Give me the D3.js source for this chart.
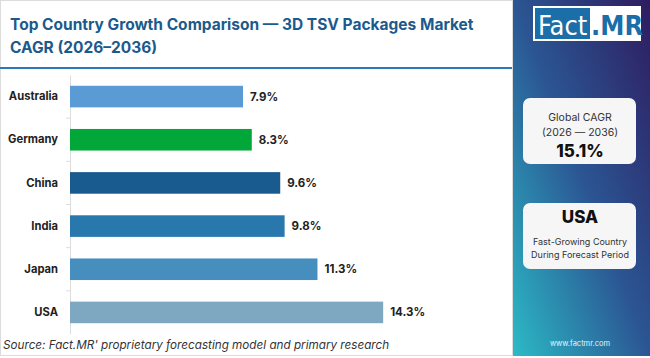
<!DOCTYPE html>
<html><head><meta charset="utf-8">
<script src="https://cdn.jsdelivr.net/npm/d3@7"></script>
<style>
html,body{margin:0;padding:0;background:#fff;}
svg{display:block;font-family:"Inter","Open Sans",sans-serif;}
</style></head>
<body>
<script>
const countries = ["Australia","Germany","China","India","Japan","USA"];
const cagr = [7.9, 8.3, 9.6, 9.8, 11.3, 14.3];
const barColors = ["#5b9bd5","#02a73a","#1a5b8f","#2878ad","#468ebe","#7ea8c2"];
const titleLines = ["Top Country Growth Comparison — 3D TSV Packages Market","CAGR (2026–2036)"];
const globalCagr = "15.1%";
const topCountry = "USA";

const W = 650, H = 358;
const svg = d3.select("body").append("svg").attr("width", W).attr("height", H);

// main panel
svg.append("rect").attr("x",0.5).attr("y",0.5).attr("width",512).attr("height",355)
  .attr("fill","#fff").attr("stroke","#dcdcdc");

// title
const title = svg.append("text").attr("x",10).attr("fill","#1b5a8c")
  .attr("font-weight",700).attr("font-size",15.5);
titleLines.forEach((t,i)=>{
  title.append("tspan").attr("x",10).attr("y",30+i*23).text(t);
});
svg.append("line").attr("x1",0).attr("x2",512).attr("y1",68).attr("y2",68)
  .attr("stroke","#2a7ab5").attr("stroke-width",2);

// scales
const y = d3.scaleBand().domain(countries).range([75,334]).paddingInner(0.5).paddingOuter(0.25);
const x = d3.scaleLinear().domain([0,16]).range([70,420.4]);

// axis
const yAxis = d3.axisLeft(y).tickSize(0).tickPadding(12);
const ag = svg.append("g").attr("transform","translate(70,0)").call(yAxis);
ag.select(".domain").attr("stroke","#dddddd");
ag.selectAll("text").attr("font-size",11.2).attr("font-weight",700).attr("fill","#222")
  .attr("font-family","Inter, sans-serif");
// boundary ticks
const bounds = countries.slice(1).map(c => y(c) - y.step()*y.paddingInner()/2);
svg.append("g").selectAll("line").data(bounds).join("line")
  .attr("x1",66).attr("x2",70).attr("y1",d=>d).attr("y2",d=>d).attr("stroke","#dddddd");

// bars
const data = countries.map((c,i)=>({c, v:cagr[i], col:barColors[i]}));
svg.append("g").selectAll("rect").data(data).join("rect")
  .attr("x",x(0)).attr("y",d=>y(d.c)).attr("width",d=>x(d.v)-x(0))
  .attr("height",y.bandwidth()).attr("fill",d=>d.col);
svg.append("g").selectAll("text").data(data).join("text")
  .attr("x",d=>x(d.v)+7).attr("y",d=>y(d.c)+y.bandwidth()/2).attr("dy","0.35em")
  .attr("font-size",11.5).attr("font-weight",700).attr("fill","#222")
  .text(d=>d.v.toFixed(1)+"%");

// source
svg.append("text").attr("x",3).attr("y",349).attr("font-size",11.7).attr("font-style","italic")
  .attr("fill","#333").text("Source: Fact.MR' proprietary forecasting model and primary research");

// sidebar
const defs = svg.append("defs");
const grad = defs.append("linearGradient").attr("id","sg")
  .attr("x1","1").attr("y1","0").attr("x2","0").attr("y2","1");
grad.append("stop").attr("offset","0").attr("stop-color","#2e1c60");
grad.append("stop").attr("offset","0.5").attr("stop-color","#2b5693");
grad.append("stop").attr("offset","1").attr("stop-color","#2cbac6");
svg.append("rect").attr("x",513).attr("y",0).attr("width",137).attr("height",356).attr("fill","url(#sg)");

// logo
svg.append("rect").attr("x",533).attr("y",6).attr("width",108).attr("height",35).attr("fill","#fff");
svg.append("rect").attr("x",535).attr("y",8).attr("width",55).attr("height",31).attr("fill","#1b6ea8");
svg.append("text").attr("x",538).attr("y",35).attr("font-size",27).attr("fill","#fff")
  .attr("font-family","Liberation Sans Narrow, DejaVu Sans Condensed, sans-serif").text("Fact");
svg.append("text").attr("x",591).attr("y",35).attr("font-size",27).attr("font-weight",700).attr("fill","#1b6ea8")
  .attr("font-family","Liberation Sans Narrow, DejaVu Sans Condensed, sans-serif").text(".MR");

// box 1
svg.append("rect").attr("x",523).attr("y",98).attr("width",113).attr("height",66).attr("rx",7).attr("fill","#f6f6f6");
svg.append("text").attr("x",580).attr("y",121).attr("text-anchor","middle").attr("font-size",10.5).attr("fill","#333").text("Global CAGR");
svg.append("text").attr("x",580).attr("y",136).attr("text-anchor","middle").attr("font-size",10.5).attr("fill","#333").text("(2026 — 2036)");
svg.append("text").attr("x",580).attr("y",157).attr("text-anchor","middle").attr("font-size",17).attr("font-weight",800).attr("fill","#111").text(globalCagr);

// box 2
svg.append("rect").attr("x",523).attr("y",203).attr("width",113).attr("height",66).attr("rx",7).attr("fill","#f6f6f6");
svg.append("text").attr("x",580).attr("y",223).attr("text-anchor","middle").attr("font-size",17).attr("font-weight",800).attr("fill","#111").text(topCountry);
svg.append("text").attr("x",580).attr("y",245).attr("text-anchor","middle").attr("font-size",9).attr("fill","#333").text("Fast-Growing Country");
svg.append("text").attr("x",580).attr("y",258).attr("text-anchor","middle").attr("font-size",9).attr("fill","#333").text("During Forecast Period");

svg.append("text").attr("x",580).attr("y",346).attr("text-anchor","middle").attr("font-size",7.5).attr("fill","#e8f4f8").text("www.factmr.com");
</script>
</body></html>
